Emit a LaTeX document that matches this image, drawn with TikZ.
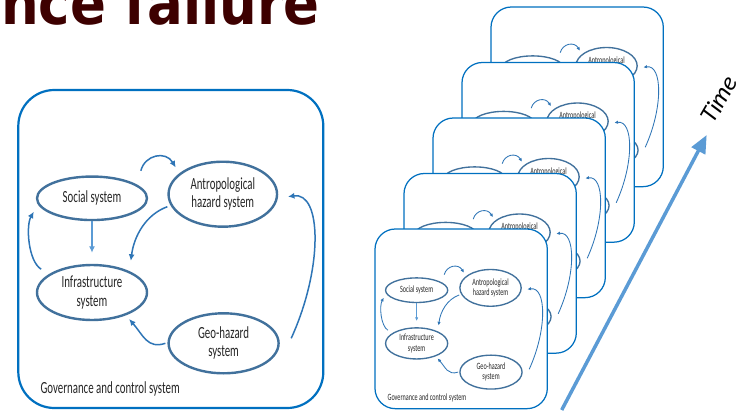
\documentclass[tikz,border=0pt]{standalone}
\usepackage{graphicx}
\usepackage{fontspec}
\setmainfont{Carlito}
\newfontfamily\diagfont[FakeStretch=0.64]{Carlito}
\newfontfamily\headfont{DejaVu Sans}
\usetikzlibrary{shapes.geometric,arrows.meta}

\definecolor{boxblue}{HTML}{0070C0}
\definecolor{ringblue}{HTML}{41719C}
\definecolor{flowblue}{HTML}{2E75B6}
\definecolor{paleflow}{HTML}{5B9BD5}
\definecolor{headred}{HTML}{3D0000}

% One governance diagram; the argument is its scale factor.
\tikzset{
  sysdiagram/.pic={
    \pgfmathsetmacro\dsc{#1}
    \pgfmathsetmacro\fsz{17*\dsc}
    \pgfmathsetmacro\fbs{18.3*\dsc}
    \pgfmathsetmacro\lwbox{2.2*\dsc}
    \pgfmathsetmacro\lwring{2.4*\dsc}
    \pgfmathsetmacro\lwflow{1.5*\dsc}
    \pgfmathsetmacro\rad{36*\dsc}
    \pgfmathsetmacro\alen{6.5*\dsc}
    \pgfmathsetmacro\awid{6*\dsc}
    \begin{scope}[x=\dsc pt, y=-\dsc pt,
        govbox/.style={draw=boxblue, fill=white, line width=\lwbox pt, rounded corners=\rad pt},
        ring/.style={draw=ringblue, fill=white, line width=\lwring pt, ellipse, inner sep=0pt,
                     align=center, text=black!85, font=\diagfont\fontsize{\fsz}{\fbs}\selectfont},
        flow/.style={draw=flowblue, line width=\lwflow pt, -{Latex[length=\alen pt, width=\awid pt]}},
        paleline/.style={draw=paleflow, line width=\lwflow pt, -{Latex[length=\alen pt, width=\awid pt]}},
        caption/.style={font=\diagfont\fontsize{\fsz}{\fbs}\selectfont, text=black!85, inner sep=0pt}]
      \draw[govbox] (0,0) rectangle (305,318);
      \node[ring, minimum width=\dsc*110pt, minimum height=\dsc*43.5pt] (-social) at (73.7,108.3) {Social system};
      \node[ring, minimum width=\dsc*108.5pt, minimum height=\dsc*65pt] (-antro) at (204.5,104.2) {Antropological\\hazard system};
      \node[ring, minimum width=\dsc*110pt, minimum height=\dsc*55pt] (-infra) at (73.7,202.5) {Infrastructure\\system};
      \node[ring, minimum width=\dsc*110pt, minimum height=\dsc*60pt] (-geo) at (205.3,253.3) {Geo-hazard\\system};
      \node[caption, anchor=base west] (-gov) at (22,303) {Governance and control system};
      % interactions between the subsystems
      \draw[flow] ([shift={(9.1,-11.3)}]-social.north east) .. controls +(4,-16) and +(-10,-17) .. ([shift={(-7.9,-2.9)}]-antro.north west);
      \draw[paleline] (-social.south) -- ([shift={(0,-11)}]-infra.north);
      \draw[flow] ([shift={(-11.1,-3)}]-infra.north west) .. controls +(-13,-8) and +(-8,14) .. ([shift={(-2,13.4)}]-social.west);
      \draw[flow] ([shift={(0,12.5)}]-antro.west) .. controls +(-22,8) and +(3,-24) .. ([shift={(-0.9,-11.4)}]-infra.north east);
      \draw[flow] ([shift={(-2,0)}]-geo.west) .. controls +(-18,6) and +(14,16) .. ([shift={(-2.6,6.3)}]-infra.south east);
      \draw[flow] ([shift={(11.4,-5)}]-geo.east) .. controls +(32,-70) and +(34,-5) .. ([shift={(9.7,2.5)}]-antro.east);
    \end{scope}
  },
  timearrow/.style={draw=paleflow, line width=3.5pt, -{Triangle[length=18pt, width=15pt]}}
}

\begin{document}
\begin{tikzpicture}[x=1pt, y=-1pt]
  \useasboundingbox (0,0) rectangle (747,412);
  \clip (0,0) rectangle (747,412);

  \node[anchor=base west, inner sep=0pt, text=headred,
        font=\headfont\bfseries\fontsize{53}{60}\selectfont] (heading) at (1,25)
        {\scalebox{1}[1.12]{nce failure}};

  % single snapshot
  \pic (main) at (18.3,90) {sysdiagram=1};

  % stack of snapshots over time, back to front
  \foreach \k in {4,3,2,1,0} {
    \pic (layer\k) at ({375+29*\k},{229-55.5*\k}) {sysdiagram=0.565};
  }

  \coordinate (tbase) at (561.7,410);
  \coordinate (ttip) at (706.7,135);
  \draw[timearrow] (tbase) -- (ttip);
  \node[rotate=60, font=\itshape\fontsize{25}{30}\selectfont] (timelabel) at (719,99) {Time};
\end{tikzpicture}
\end{document}
